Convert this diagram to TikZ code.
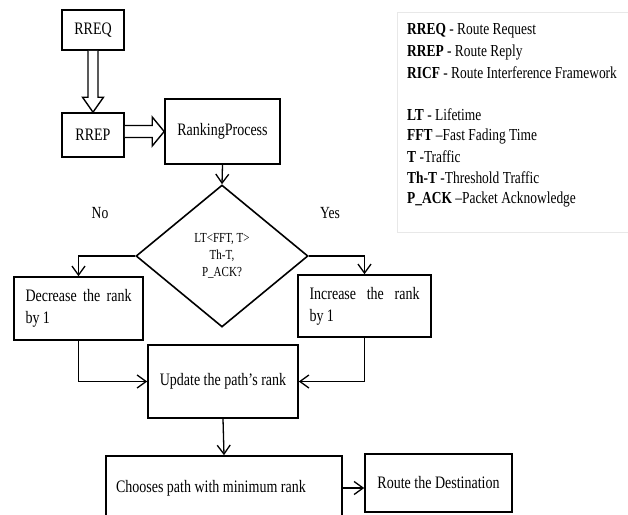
\documentclass[tikz,border=0pt]{standalone}
\usepackage{fontspec}
\setmainfont[FakeStretch=0.8]{Liberation Serif}
\usetikzlibrary{shapes.geometric,arrows.meta,calc}
\begin{document}
\begin{tikzpicture}[x=1pt,y=-1pt,
  box/.style={draw,line width=1.6pt,inner sep=0pt,font=\fontsize{17.5}{22}\selectfont},
  arr/.style={line width=1.3pt,-{Straight Barb[length=9pt,width=13pt,line width=1.3pt]}},
  hollow/.style={draw,line width=1.4pt,fill=white,line join=miter},
  leg/.style={anchor=west,inner sep=0pt,font=\fontsize{16.8}{19}\selectfont},
  lbl/.style={inner sep=0pt,font=\fontsize{17}{20}\selectfont}]
\useasboundingbox (0,0) rectangle (628,514);
\fill[white] (0,0) rectangle (628,514);

% legend frame and bottom box (cut at the picture edge)
\begin{scope}
\clip (0,0) rectangle (628,514);
\node[draw=gray!18,line width=1.2pt,minimum width=240,minimum height=220,anchor=north west] (legbox) at (397,12) {};
\node[box,minimum width=236,minimum height=64] (cho) at (224,488) {\makebox[216pt][l]{Chooses path with minimum rank}};
\end{scope}
\node[leg] (leg1) at (407,31) {\textbf{RREQ} - Route Request};
\node[leg] (leg2) at (407,52) {\textbf{RREP} - Route Reply};
\node[leg] (leg3) at (407,73) {\textbf{RICF} - Route Interference Framework};
\node[leg] (leg4) at (407,115) {\textbf{LT} - Lifetime};
\node[leg] (leg5) at (407,136) {\textbf{FFT} –Fast Fading Time};
\node[leg] (leg6) at (407,157) {\textbf{T} -Traffic};
\node[leg] (leg7) at (407,178) {\textbf{Th-T} -Threshold Traffic};
\node[leg] (leg8) at (407,199) {\textbf{P\_ACK} –Packet Acknowledge};

% boxes
\node[box,minimum width=62,minimum height=40] (rreq) at (93,30) {RREQ};
\node[box,minimum width=62,minimum height=44] (rrep) at (93,135) {RREP};
\node[box,minimum width=115,minimum height=65] (rank) at (222.5,131.5) {RankingProcess};
\node[draw,diamond,line width=1.6pt,minimum width=172,minimum height=142,inner sep=0pt,align=center,font=\fontsize{13.8}{17}\selectfont] (dec) at (222,256) {LT<FFT, T>\\Th-T,\\P\_ACK?};
\node[box,minimum width=129,minimum height=63] (decr) at (78.5,308.5) {\parbox{106pt}{Decrease\hfill the\hfill rank\\by 1}};
\node[box,minimum width=133,minimum height=62] (incr) at (364.5,306) {\parbox{110pt}{Increase\hfill the\hfill rank\\by 1}};
\node[box,minimum width=150,minimum height=73] (upd) at (223,381.5) {Update the path’s rank};
\node[box,minimum width=147,minimum height=58] (route) at (438.5,483) {Route the Destination};

\node[lbl] (no) at (100,213) {No};
\node[lbl] (yes) at (330,213) {Yes};

% hollow arrows
\draw[hollow] ($(rreq.south)+(-5,0)$) -- ($(rrep.north)+(-5,-15)$) -- ($(rrep.north)+(-10.5,-15)$) -- (rrep.north) -- ($(rrep.north)+(10.5,-15)$) -- ($(rrep.north)+(5,-15)$) -- ($(rreq.south)+(5,0)$);
\coordinate (h1) at (rrep.east|-rank.west);
\draw[hollow] ($(h1)+(0,-6)$) -- ($(rank.west)+(-12,-6)$) -- ($(rank.west)+(-12,-14.5)$) -- (rank.west) -- ($(rank.west)+(-12,14.5)$) -- ($(rank.west)+(-12,6)$) -- ($(h1)+(0,6)$);

% connectors
\draw[arr] (rank.south) -- (dec.north);
\draw[arr] (dec.west) -| (decr.north);
\draw[arr] (dec.east) -| (incr.north);
\draw[arr] (decr.south) |- (upd.west);
\draw[arr] (incr.south) |- (upd.east);
\draw[arr] (upd.south) -- (cho.north);
\draw[arr] (cho.east) -- (cho.east -| route.west);
\end{tikzpicture}
\end{document}
